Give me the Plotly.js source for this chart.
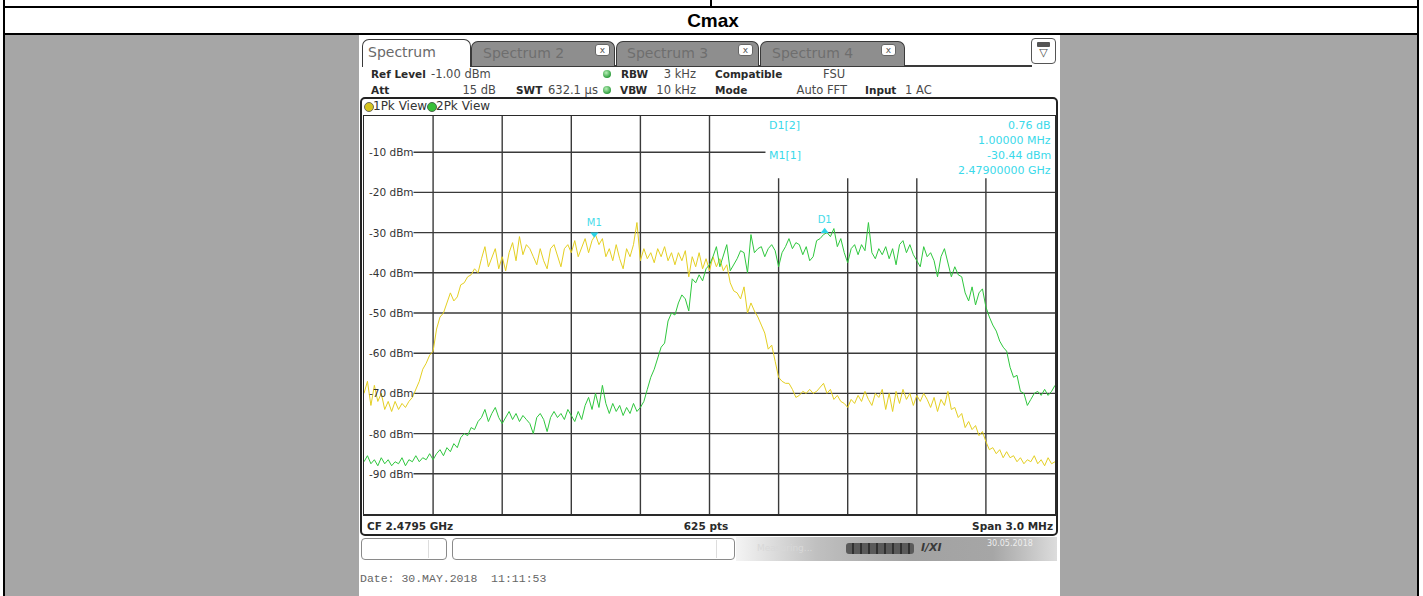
<!DOCTYPE html>
<html><head><meta charset="utf-8">
<script src="https://cdn.plot.ly/plotly-3.0.1.min.js"></script>
<style>
html,body{margin:0;padding:0;background:#fff;}
#page{position:relative;width:1423px;height:596px;overflow:hidden;background:#fff;font-family:"DejaVu Sans",sans-serif;}
.a{position:absolute;white-space:nowrap;}
.t{height:14px;line-height:14px;}
.b{font-weight:bold;font-size:10.5px;color:#2a2a2a;}
.r{font-size:11.5px;color:#4a4a4a;}
.tab{position:absolute;box-sizing:border-box;border:1.5px solid #3a3a3a;border-bottom:none;border-radius:7px 7px 0 0;}
.tabtxt{position:absolute;font-size:14px;line-height:16px;white-space:nowrap;}
.cls{position:absolute;box-sizing:border-box;width:15px;height:12px;background:#fff;border:1px solid #666;border-radius:3px;font-size:9px;line-height:10px;text-align:center;color:#555;}
.dot{position:absolute;width:8px;height:8px;border-radius:50%;background:radial-gradient(circle at 40% 35%,#b8f0b8,#2f9e3e 70%);}
</style></head>
<body><div id="page">
<!-- document table -->
<div class="a" style="left:3px;top:0;width:2px;height:596px;background:#000"></div>
<div class="a" style="left:1417px;top:0;width:2px;height:596px;background:#000"></div>
<div class="a" style="left:3px;top:6px;width:1416px;height:2px;background:#000"></div>
<div class="a" style="left:710px;top:0;width:2px;height:7px;background:#000"></div>
<div class="a" style="left:3px;top:33px;width:1416px;height:2px;background:#000"></div>
<div class="a" style="left:5px;top:35px;width:1412px;height:561px;background:#a6a6a6"></div>
<div class="a" style="left:0;top:8px;width:1426px;height:25px;line-height:25px;text-align:center;font-family:'Liberation Sans',Arial,sans-serif;font-weight:bold;font-size:19px;color:#000">Cmax</div>

<!-- screenshot -->
<div class="a" style="left:359px;top:35px;width:701px;height:561px;background:#fff"></div>
<div class="a" style="left:470px;top:65px;width:562px;height:1.5px;background:#3a3a3a"></div>
<div class="tab" style="left:362px;top:39px;width:109px;height:28px;background:#fff"></div>
<div class="tabtxt" style="left:368px;top:44px;color:#6a6a6a">Spectrum</div>
<div class="tab" style="left:471px;top:41px;width:144px;height:25px;background:#8e8e8e"></div>
<div class="tabtxt" style="left:483px;top:45px;color:#6e6e6e">Spectrum 2</div>
<div class="cls" style="left:595px;top:44px">x</div>
<div class="tab" style="left:616px;top:41px;width:143px;height:25px;background:#8e8e8e"></div>
<div class="tabtxt" style="left:627px;top:45px;color:#6e6e6e">Spectrum 3</div>
<div class="cls" style="left:738px;top:44px">x</div>
<div class="tab" style="left:760px;top:41px;width:145px;height:25px;background:#8e8e8e"></div>
<div class="tabtxt" style="left:772px;top:45px;color:#6e6e6e">Spectrum 4</div>
<div class="cls" style="left:881px;top:44px">x</div>
<div class="a" style="left:1031px;top:38px;width:25px;height:26px;box-sizing:border-box;background:#fff;border:1.5px solid #555;border-radius:4px"></div>
<div class="a" style="left:1037px;top:42px;width:13px;height:5px;background:#555;border-radius:1px"></div>
<div class="a" style="left:1031px;top:47px;width:25px;text-align:center;font-size:11px;line-height:12px;color:#444">▽</div>

<div class="a t b" style="left:371px;top:67px">Ref Level</div>
<div class="a t r" style="left:431px;top:67px">-1.00 dBm</div>
<div class="dot" style="left:603px;top:70px"></div>
<div class="a t b" style="left:621px;top:67px">RBW</div>
<div class="a t r" style="right:727px;top:67px">3 kHz</div>
<div class="a t b" style="left:715px;top:67px">Compatible</div>
<div class="a t r" style="left:823px;top:67px">FSU</div>

<div class="a t b" style="left:371px;top:83px">Att</div>
<div class="a t r" style="right:927px;top:83px">15 dB</div>
<div class="a t b" style="left:516px;top:83px">SWT</div>
<div class="a t r" style="left:548px;top:83px">632.1 µs</div>
<div class="dot" style="left:603px;top:86px"></div>
<div class="a t b" style="left:620px;top:83px">VBW</div>
<div class="a t r" style="right:727px;top:83px">10 kHz</div>
<div class="a t b" style="left:715px;top:83px">Mode</div>
<div class="a t r" style="right:576px;top:83px">Auto FFT</div>
<div class="a t b" style="left:865px;top:83px">Input</div>
<div class="a t r" style="left:905px;top:83px">1 AC</div>

<!-- plot window frame -->
<div class="a" style="left:360px;top:97px;width:698px;height:439px;box-sizing:border-box;border:2.5px solid #222;border-radius:5px;background:#fff"></div>
<div class="a" style="left:364px;top:102px;width:8px;height:8px;border-radius:50%;background:#d6c41c;border:1px solid #6a6a5a"></div>
<div class="a t r" style="left:373px;top:99px;font-size:12px;color:#333">1Pk View</div>
<div class="a" style="left:427px;top:102px;width:8px;height:8px;border-radius:50%;background:#38c038;border:1px solid #4a6a4a"></div>
<div class="a t r" style="left:436px;top:99px;font-size:12px;color:#333">2Pk View</div>

<div class="a t b" style="left:367px;top:519px;font-size:10.5px">CF 2.4795 GHz</div>
<div class="a t b" style="left:606px;top:519px;width:200px;text-align:center;font-size:10.5px">625 pts</div>
<div class="a t b" style="right:370px;top:519px;font-size:10.5px">Span 3.0 MHz</div>

<!-- softkey / status bar -->
<div class="a" style="left:361px;top:538px;width:86px;height:22px;box-sizing:border-box;background:#fff;border:1px solid #8a8a8a;border-radius:4px"></div>
<div class="a" style="left:428px;top:540px;width:1px;height:18px;background:#ddd"></div>
<div class="a" style="left:452px;top:538px;width:283px;height:22px;box-sizing:border-box;background:#fff;border:1px solid #8a8a8a;border-radius:4px"></div>
<div class="a" style="left:716px;top:540px;width:1px;height:18px;background:#ddd"></div>
<div class="a" style="left:736px;top:537px;width:321px;height:24px;background:linear-gradient(to right,#f4f4f4 0%,#c0c0c0 25%,#a2a2a2 55%,#a6a6a6 80%,#dcdcdc 100%)"></div>
<div class="a" style="left:757px;top:542px;font-size:9px;line-height:12px;color:#d8d8d8">Measuring...</div>
<div class="a" style="left:846px;top:543px;width:68px;height:11px;border-radius:3px;background:repeating-linear-gradient(to right,#5a5a5a 0 6px,#303030 6px 8px)"></div>
<div class="a" style="left:921px;top:541px;font-size:11px;line-height:14px;font-weight:bold;font-style:italic;color:#3a3a3a">I/XI</div>
<div class="a" style="left:987px;top:539px;font-size:8px;line-height:10px;color:#eeeeee">30.05.2018</div>
<div class="a" style="left:360px;top:572px;font-family:'Liberation Mono','DejaVu Sans Mono',monospace;font-size:11.5px;line-height:14px;color:#666">Date: 30.MAY.2018&nbsp; 11:11:53</div>

<div id="chart" class="a" style="left:0;top:0;width:1423px;height:596px;"></div>
</div>
<script>
// sweep definition (CF 2.4795 GHz, span 3.0 MHz)
const freqStartGHz = 2.478;
const freqStopGHz = 2.481;
const freqStepGHz = 0.000015;

// trace 1 (1Pk View, yellow) in dBm
const trace1Pk = [
-70,-67,-73,-68,-72,-70,-74,-72,-74.5,-72,
-74,-72.5,-73.5,-72,-71,-69,-67,-64,-62.5,-60.5,
-59.5,-54,-51,-50,-47.5,-45,-47,-46,-43,-42.5,
-41,-40.5,-39,-40,-36.5,-33.5,-38.5,-36,-34,-39,
-36,-39.5,-35,-32.5,-37,-31,-35.5,-33,-34,-36,
-38,-34,-37,-39,-34,-33,-36,-38.5,-34,-33,
-35,-32,-36,-33.5,-31.5,-35,-32,-30.5,-33,-31.5,
-36,-34,-37,-33,-36.5,-39,-34,-36,-33,-27.5,
-37,-34,-36.5,-35,-37.5,-34,-36,-33.5,-37,-35,
-38,-35,-37,-34.5,-41,-36,-38.5,-35,-39,-36.5,
-39.5,-36,-38.5,-36.5,-39.5,-38,-42.5,-44.5,-45,-46.5,
-43.5,-50,-47.5,-49.5,-51,-53,-55,-59,-58,-62,
-66,-67,-67.5,-67.5,-69,-71,-70.5,-69.5,-70,-69,
-70,-69.5,-68.5,-67.5,-70,-69,-71.5,-70.5,-72,-72.5,
-73.5,-71.5,-72.5,-70.5,-72,-69.5,-71.5,-73,-70,-71,
-69,-74,-70,-74.5,-69.5,-72.5,-69,-71.5,-70,-73,
-70.5,-72,-70,-71.5,-73.5,-71,-74.5,-71.5,-73,-69.5,
-74,-73.5,-76,-75,-78.5,-77,-79,-78,-80.5,-79.5,
-82,-84,-83.5,-85,-84,-86,-84.5,-86,-85.5,-87,
-86,-87.5,-86.5,-87,-85.5,-87.5,-86.5,-88,-86,-87.5,
-87];

// trace 2 (2Pk View, green) in dBm
const trace2Pk = [
-87,-85.5,-87.5,-86.5,-88,-86,-87.5,-86.5,-88,-87,
-87.5,-86,-88,-86.5,-87,-85.5,-87,-86,-86.5,-85,
-86.5,-85,-84,-85.5,-83.5,-84.5,-82.5,-83.5,-81,-80,
-80.5,-78.5,-79,-77,-76,-74,-77,-75,-73.5,-76,
-77.5,-76,-74.5,-76.5,-75,-77,-75.5,-76.5,-77.5,-80,
-76,-75,-76.5,-79.5,-76,-74.5,-76,-75,-76.5,-74,
-75.5,-77,-74.5,-76.5,-73,-71,-74,-70,-73.5,-68,
-72.5,-75,-72.5,-74.5,-73,-75.5,-73.5,-75,-72.5,-74.5,
-73.5,-72,-69,-66,-64,-61.5,-58.5,-57.5,-52,-50,
-50.5,-47.5,-45.5,-46.5,-49.5,-41.5,-42.5,-40.5,-42,-39,
-38,-36,-33.5,-38.5,-36,-33,-39.5,-38,-36.5,-34.5,
-35,-40,-30.5,-35,-34,-33.5,-36,-34,-33,-34.5,
-38.5,-35,-33.5,-31.5,-34,-32.5,-33,-35.5,-33.5,-37,
-36,-32,-31.5,-30.5,-30,-31,-29,-33.5,-31.5,-35,
-37.5,-34,-33,-35.5,-33,-34.5,-27.5,-35,-36.5,-34,
-35.5,-33.5,-36.5,-34,-38,-33,-32,-35,-33,-35.5,
-37,-38.5,-33.5,-36,-35,-37,-41,-36,-34,-37.5,
-41,-38.5,-40.5,-41,-45,-47,-43.5,-48,-45,-44,
-48.5,-51,-53,-54.5,-57,-58.5,-59.5,-63.5,-66,-65.5,
-69.5,-70,-73,-71.5,-70,-69.5,-70.5,-69,-70.5,-69.5,
-68];

// level axis
const refLevel = -1;
const bottomLevel = -100;
const levelTicks = [-10,-20,-30,-40,-50,-60,-70,-80,-90];
const levelTickLabels = ["-10 dBm","-20 dBm","-30 dBm","-40 dBm","-50 dBm","-60 dBm","-70 dBm","-80 dBm","-90 dBm"];

// markers
const markerNames = ["M1","D1"];
const markerFreqGHz = [2.479, 2.480];
const markerLevel = [-30.44, -29.68];
const markerTableLeft = ["D1[2]","M1[1]"];
const markerTableRight = ["0.76 dB","1.00000 MHz","-30.44 dBm","2.47900000 GHz"];

const freq = trace1Pk.map((_, i) => freqStartGHz + i * freqStepGHz);

const traces = [
  {x: freq, y: trace1Pk, type: 'scatter', mode: 'lines', line: {color: '#e4cf22', width: 1}, hoverinfo: 'skip'},
  {x: freq, y: trace2Pk, type: 'scatter', mode: 'lines', line: {color: '#2fc73e', width: 1}, hoverinfo: 'skip'},
  {x: [markerFreqGHz[0]], y: [markerLevel[0]], type: 'scatter', mode: 'markers+text',
   marker: {symbol: 'triangle-down', size: 7, color: '#2cd3e6'}, text: [markerNames[0]], textposition: 'top center',
   textfont: {family: 'DejaVu Sans', size: 10, color: '#45dbea'}},
  {x: [markerFreqGHz[1]], y: [markerLevel[1]], type: 'scatter', mode: 'markers+text',
   marker: {symbol: 'triangle-up', size: 7, color: '#2cd3e6'}, text: [markerNames[1]], textposition: 'top center',
   textfont: {family: 'DejaVu Sans', size: 10, color: '#45dbea'}}
];

// grid as shapes (10 x 10 divisions)
const div = (freqStopGHz - freqStartGHz) / 10;
const shapes = [];
const gridStyle = {color: '#3a3a3a', width: 1.4};
for (let k = 1; k <= 9; k++) {
  const xv = freqStartGHz + k * div;
  shapes.push({type: 'line', xref: 'x', yref: 'y', x0: xv, x1: xv, y0: bottomLevel, y1: k >= 6 ? -16.5 : refLevel, line: gridStyle, layer: 'below'});
}
const labelEnd = freqStartGHz + 0.000215;
levelTicks.forEach((lv, i) => {
  const x1 = i === 0 ? freqStartGHz + 0.001743 : freqStopGHz;
  shapes.push({type: 'line', xref: 'x', yref: 'y', x0: labelEnd, x1: x1, y0: lv, y1: lv, line: gridStyle, layer: 'below'});
});

const annotations = levelTicks.map((lv, i) => ({
  xref: 'paper', yref: 'y', x: 0.0043, y: lv, xanchor: 'left', yanchor: 'middle', showarrow: false,
  text: levelTickLabels[i], font: {family: 'DejaVu Sans', size: 10.5, color: '#333'}
}));
const cyan = '#3ad9ea';
const pxY = py => (514 - py) / 398;
markerTableLeft.forEach((t, i) => annotations.push({
  xref: 'paper', yref: 'paper', x: (767 - 364) / 691, y: pxY(125 + i * 30), xanchor: 'left', yanchor: 'middle',
  showarrow: false, text: t, font: {family: 'DejaVu Sans', size: 11, color: cyan}
}));
markerTableRight.forEach((t, i) => annotations.push({
  xref: 'paper', yref: 'paper', x: (1053 - 364) / 691, y: pxY(125 + i * 15), xanchor: 'right', yanchor: 'middle',
  showarrow: false, text: t, font: {family: 'DejaVu Sans', size: 11, color: cyan}
}));

const layout = {
  width: 1423, height: 596,
  margin: {l: 364, r: 368, t: 116, b: 82, pad: 0},
  paper_bgcolor: 'rgba(0,0,0,0)', plot_bgcolor: '#ffffff',
  showlegend: false,
  xaxis: {range: [freqStartGHz, freqStopGHz], showgrid: false, zeroline: false, showticklabels: false, ticks: '',
          showline: true, mirror: true, linecolor: '#2a2a2a', linewidth: 1.5, fixedrange: true},
  yaxis: {range: [bottomLevel, refLevel], showgrid: false, zeroline: false, showticklabels: false, ticks: '',
          showline: true, mirror: true, linecolor: '#2a2a2a', linewidth: 1.5, fixedrange: true},
  shapes: shapes,
  annotations: annotations,
  font: {family: 'DejaVu Sans'}
};
Plotly.newPlot('chart', traces, layout, {staticPlot: true, displayModeBar: false});
</script>
</body></html>
